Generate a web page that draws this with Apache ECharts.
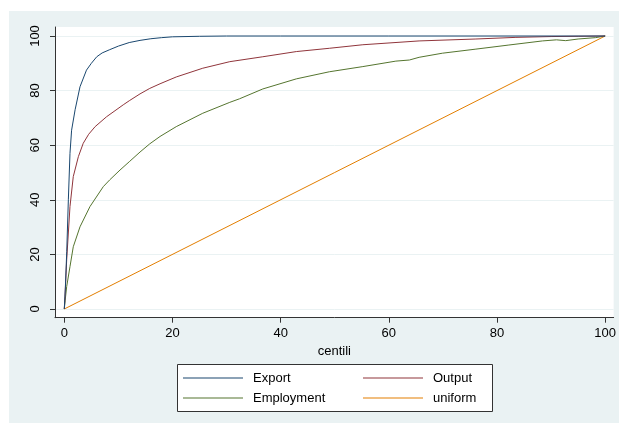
<!DOCTYPE html>
<html>
<head>
<meta charset="utf-8">
<script src="https://cdn.jsdelivr.net/npm/echarts@6/dist/echarts.min.js"></script>
<style>
  html, body { margin: 0; padding: 0; background: #ffffff; }
  #bg { position: absolute; left: 9px; top: 11px; width: 610px; height: 412px; background: #EAF2F3; }
  #chart { position: absolute; left: 0; top: 0; width: 619px; height: 423px; }
</style>
</head>
<body>
<div id="bg"></div>
<div id="chart"></div>
<script>
// ---- data ----
const tickValues = [0, 20, 40, 60, 80, 100];

const exportX = [0, 0.2, 0.45, 0.75, 1.05, 1.35, 2, 2.9, 4.1, 5, 6, 7, 8.4, 10, 12, 14, 16, 18, 20, 25, 30, 40, 60, 80, 100];
const exportY = [0, 8, 21, 40, 57, 65.5, 73, 81.4, 87.5, 90, 92.4, 93.8, 95, 96.3, 97.6, 98.4, 99, 99.4, 99.7, 99.9, 100, 100, 100, 100, 100];

const outputX = [0, 0.13, 0.44, 1.05, 1.66, 2.6, 3.5, 4.5, 5.7, 7.8, 10.9, 12.1, 14, 15.8, 17.7, 20.7, 25.6, 30.6, 36.7, 42.9, 49, 55.2, 65.6, 76.1, 83.5, 90, 95, 100];
const outputY = [0, 4.5, 18, 37.5, 48.5, 55.8, 60.7, 64, 66.8, 70.4, 74.8, 76.4, 78.8, 80.8, 82.5, 85, 88.2, 90.6, 92.4, 94.3, 95.5, 96.8, 98.2, 98.9, 99.5, 99.8, 99.9, 100];

const employX = [0, 0.15, 0.44, 1.05, 1.66, 2.9, 4.74, 7.2, 8.4, 10.3, 12.1, 14, 15.8, 17.7, 20.7, 25.6, 30.6, 32.4, 36.7, 42.9, 49, 55.2, 61.3, 63.8, 65.6, 69.9, 76.1, 82.2, 88.4, 91, 92.7, 95, 98.2, 100];
const employY = [0, 3, 8.2, 15.5, 22.8, 30.1, 37.5, 44.8, 47.3, 50.9, 54.1, 57.5, 60.5, 63.2, 66.8, 71.7, 75.7, 77, 80.6, 84.3, 86.9, 88.8, 90.8, 91.2, 92.2, 93.7, 95.2, 96.7, 98.2, 98.6, 98.3, 98.9, 99.4, 100];

const uniformX = [0, 100];
const uniformY = [0, 100];

const zip = (xs, ys) => xs.map((x, i) => [x, ys[i]]);

const FONT = "'Liberation Sans', Arial, sans-serif";
const AXIS_COLOR = '#333333';

const chart = echarts.init(document.getElementById('chart'), null, { renderer: 'canvas' });

const legendCommon = {
  orient: 'vertical',
  top: 371,
  padding: 0,
  itemWidth: 60,
  itemHeight: 1,
  itemGap: 6,
  icon: 'rect',
  selectedMode: false,
  textStyle: { fontFamily: FONT, fontSize: 13, color: '#000', lineHeight: 14, padding: [0, 0, 0, 5] }
};

chart.setOption({
  backgroundColor: 'transparent',
  animation: false,
  color: ['#1a476f', '#90353b', '#55752f', '#e37e00'],
  grid: {
    left: 55, top: 27, width: 559, height: 290.7,
    show: true, backgroundColor: '#ffffff', borderWidth: 0
  },
  graphic: [{
    type: 'rect', z: 1, silent: true,
    shape: { x: 177.5, y: 364.5, width: 315, height: 47 },
    style: { fill: '#ffffff', stroke: '#333333', lineWidth: 1 }
  }],
  legend: [
    Object.assign({}, legendCommon, { left: 183, data: ['Export', 'Employment'] }),
    Object.assign({}, legendCommon, { left: 363, data: ['Output', 'uniform'] })
  ],
  xAxis: {
    type: 'value',
    min: -1.72, max: 101.57,
    name: 'centili', nameLocation: 'middle', nameGap: 27,
    nameTextStyle: { fontFamily: FONT, fontSize: 13, color: '#000' },
    axisLine: { show: true, onZero: false, lineStyle: { color: AXIS_COLOR, width: 1 } },
    axisTick: { show: true, length: 5, lineStyle: { color: AXIS_COLOR }, customValues: tickValues },
    axisLabel: { fontFamily: FONT, fontSize: 13, color: '#000', margin: 9, customValues: tickValues },
    splitLine: { show: false }
  },
  yAxis: {
    type: 'value',
    min: -3.19, max: 103.3,
    axisLine: { show: true, onZero: false, lineStyle: { color: AXIS_COLOR, width: 1 } },
    axisTick: { show: true, length: 5, lineStyle: { color: AXIS_COLOR }, customValues: tickValues },
    axisLabel: { fontFamily: FONT, fontSize: 13, color: '#000', rotate: 90, margin: 13, customValues: tickValues },
    splitLine: { show: true, lineStyle: { color: '#EAF2F3', width: 1 } }
  },
  series: [
    { name: 'Export', type: 'line', data: zip(exportX, exportY), showSymbol: false, lineStyle: { width: 1 }, z: 5 },
    { name: 'Output', type: 'line', data: zip(outputX, outputY), showSymbol: false, lineStyle: { width: 1 }, z: 4 },
    { name: 'Employment', type: 'line', data: zip(employX, employY), showSymbol: false, lineStyle: { width: 1 }, z: 3 },
    { name: 'uniform', type: 'line', data: zip(uniformX, uniformY), showSymbol: false, lineStyle: { width: 1 }, z: 2 }
  ]
});
</script>
</body>
</html>
